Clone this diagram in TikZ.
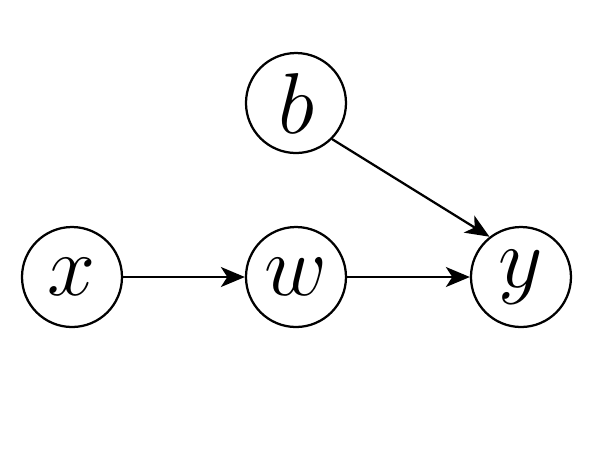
\documentclass[tikz,border=0pt]{standalone}
\usetikzlibrary{arrows.meta}
\begin{document}
\begin{tikzpicture}[x=0.2pt,y=-0.2pt,
  var/.style={circle,draw,line width=0.45pt,minimum size=20pt,inner sep=0pt,font=\fontsize{16}{19}\selectfont},
  edge/.style={line width=0.45pt,-{Stealth[length=4.8pt,width=4pt,inset=1.3pt]}}]
\useasboundingbox (0,0) rectangle (592,472);
\node[var] (x) at (72,277) {$x$};
\node[var] (w) at (296,277) {$w$};
\node[var] (y) at (521,277) {$y$};
\node[var] (b) at (296,103) {$b$};
\draw[edge] (x) -- (w);
\draw[edge] (w) -- (y);
\draw[edge] (b.-45) -- (y.128);
\end{tikzpicture}
\end{document}
